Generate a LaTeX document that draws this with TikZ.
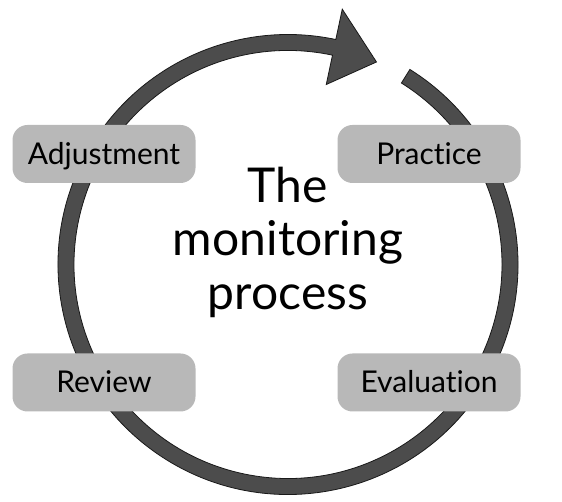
\documentclass[tikz,border=0pt]{standalone}
\usepackage{fontspec}
\setmainfont{Lato}[Ligatures=NoCommon]
\begin{document}
\begin{tikzpicture}[x=1pt, y=1pt,
  stage/.style={rounded corners=15pt, fill=black!28, minimum width=183pt, minimum height=58pt, font=\fontsize{30}{34}\selectfont, inner sep=0pt, text height=21pt, text depth=0pt},
  ring/.style={fill=black!70, draw=black!90, line width=0.8pt}]
\useasboundingbox (0,0) rectangle (562,502);
\coordinate (hub) at (288,237.5);
\begin{scope}[shift={(hub)}]
\draw [ring] (58:230) arc [start angle=58, end angle=-282, radius=230]
  -- (78:261) -- (66.4:221) -- (78:184)
  -- (78:214) arc [start angle=-282, end angle=58, radius=214] -- cycle;
\end{scope}
\node [stage] (adjust) at (104,348) {Adjustment};
\node [stage] (practice) at (429,348) {Practice};
\node [stage] (review) at (104,119.5) {Review};
\node [stage] (evaluate) at (429,119.5) {Evaluation};
\node [align=center, font=\fontsize{48}{53.5}\selectfont] (title) at (288,260) {The\\monitoring\\process};
\end{tikzpicture}
\end{document}
